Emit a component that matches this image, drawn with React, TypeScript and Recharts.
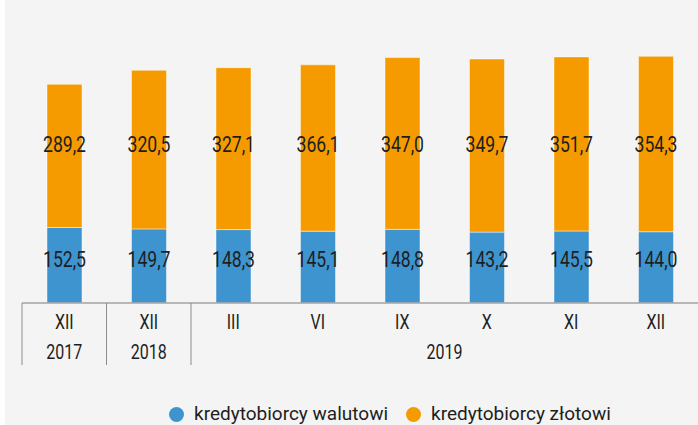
import React from 'react';
import { BarChart, Bar, XAxis, YAxis, Legend, LabelList } from 'recharts';

// miesiące i lata pod osią
const months = ['XII', 'XII', 'III', 'VI', 'IX', 'X', 'XI', 'XII'];
const years = ['2017', '2018', '2019', '2019', '2019', '2019', '2019', '2019'];

// liczba kredytobiorców (tys.)
const walutowi = [152.5, 149.7, 148.3, 145.1, 148.8, 143.2, 145.5, 144.0];
// wysokości słupków (VI rysowany ok. 336, choć podpis mówi 366,1)
const zlotowi = [289.2, 320.5, 327.1, 336.1, 347.0, 349.7, 351.7, 354.3];
const zlotowiLabels = ['289,2', '320,5', '327,1', '366,1', '347,0', '349,7', '351,7', '354,3'];

const BLUE = '#3e94ce';
const ORANGE = '#f59b00';
const INK = '#1e1e1e';
const FONT = 'Roboto, sans-serif';
const SQUEEZE = 0.8; // udaje wąski krój typu DIN

const WIDTH = 698;
const HEIGHT = 425;
const MARGIN = { top: 6, right: 0, bottom: 0, left: 22 };
const BAND = (WIDTH - MARGIN.left - MARGIN.right) / months.length;

const data = months.map((m, i) => ({
  month: m,
  walutowi: walutowi[i],
  zlotowi: zlotowi[i],
  zlotowiLabel: zlotowiLabels[i],
}));

const fmt = (v: number) => v.toFixed(1).replace('.', ',');

const NarrowText = ({ x, y, size, children }: { x: number; y: number; size: number; children: React.ReactNode }) => (
  <text
    transform={`translate(${x},${y}) scale(${SQUEEZE},1)`}
    textAnchor="middle"
    dominantBaseline="central"
    fontSize={size}
    fill={INK}
    fontFamily={FONT}
  >
    {children}
  </text>
);

const CategoryTick = (props: any) => {
  const { x, y, payload } = props;
  const i = payload.index;
  const first = i === 0 || years[i] !== years[i - 1];
  let span = 0;
  if (first) {
    span = 1;
    while (i + span < years.length && years[i + span] === years[i]) span++;
  }
  return (
    <g>
      <NarrowText x={x} y={y + 19} size={20}>{payload.value}</NarrowText>
      {first && (
        <>
          <line x1={x - BAND / 2} x2={x - BAND / 2} y1={y} y2={y + 62} stroke="#8c8c8c" strokeWidth={1} />
          <NarrowText x={x - BAND / 2 + (span * BAND) / 2} y={y + 49} size={20}>{years[i]}</NarrowText>
        </>
      )}
    </g>
  );
};

const makeLabel = (labelY: number) => (props: any) => {
  const { x, width, value } = props;
  return (
    <NarrowText x={x + width / 2} y={labelY} size={22}>
      {typeof value === 'number' ? fmt(value) : value}
    </NarrowText>
  );
};

const renderLegend = () => (
  <div style={{ width: WIDTH, height: 60, display: 'flex', alignItems: 'flex-end', boxSizing: 'border-box', paddingLeft: 169 }}>
    {[
      { name: 'kredytobiorcy walutowi', color: BLUE },
      { name: 'kredytobiorcy złotowi', color: ORANGE },
    ].map((it, k) => (
      <div key={it.name} style={{ display: 'flex', alignItems: 'center', marginRight: k === 0 ? 18 : 0, height: 22 }}>
        <span style={{ width: 15, height: 15, borderRadius: '50%', background: it.color, display: 'inline-block', marginRight: 10 }} />
        <span style={{ fontSize: 19, lineHeight: '22px', color: INK, fontFamily: FONT, whiteSpace: 'nowrap' }}>{it.name}</span>
      </div>
    ))}
  </div>
);

export default function App() {
  return (
    <div style={{ width: WIDTH, height: HEIGHT, position: 'relative', background: '#ffffff', overflow: 'hidden' }}>
      <style>{'body{margin:0}'}</style>
      <div style={{ position: 'absolute', left: 5, top: 0, right: 0, bottom: 0, background: '#f4f4f4' }} />
      <div style={{ position: 'absolute', left: 0, top: 0 }}>
        <BarChart width={WIDTH} height={HEIGHT} data={data} margin={MARGIN} barSize={35}>
          <XAxis
            dataKey="month"
            height={62}
            interval={0}
            tickLine={false}
            tickSize={0}
            tickMargin={0}
            axisLine={{ stroke: '#a3a3a3', strokeWidth: 1.5 }}
            tick={<CategoryTick />}
          />
          <YAxis hide domain={[0, 600]} />
          <Legend verticalAlign="bottom" content={renderLegend} wrapperStyle={{ left: 0, width: WIDTH }} />
          <Bar dataKey="walutowi" stackId="a" fill={BLUE} stroke="#ffffff" strokeOpacity={0.45} isAnimationActive={false}>
            <LabelList dataKey="walutowi" content={makeLabel(259.5)} />
          </Bar>
          <Bar dataKey="zlotowi" stackId="a" fill={ORANGE} stroke="#ffffff" strokeOpacity={0.45} isAnimationActive={false}>
            <LabelList dataKey="zlotowiLabel" content={makeLabel(145)} />
          </Bar>
        </BarChart>
      </div>
    </div>
  );
}
